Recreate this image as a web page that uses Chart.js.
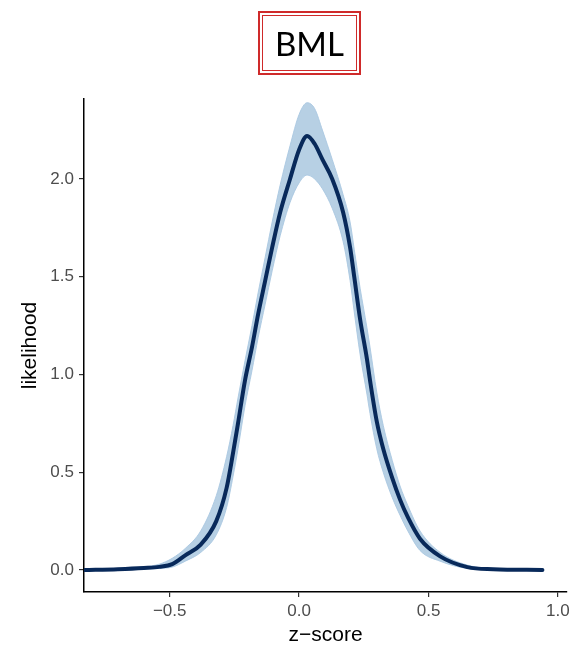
<!DOCTYPE html>
<html>
<head>
<meta charset="utf-8">
<script src="https://cdn.jsdelivr.net/npm/chart.js@4.4.1/dist/chart.umd.min.js"></script>
<style>
  html, body { margin: 0; padding: 0; background: #fff; }
  #wrap { position: relative; width: 579px; height: 645px; }
  #c { position: absolute; left: 0; top: 0; }
  #title {
    position: absolute; left: 258px; top: 11px; width: 103px; height: 64px;
    box-sizing: border-box; border: 2px solid #cf2a2a; padding: 2px;
  }
  #title div {
    box-sizing: border-box; width: 100%; height: 100%; border: 1px solid #cf2a2a;
    font-family: Lato, "DejaVu Sans", sans-serif; font-size: 33px; color: #000;
    display: flex; align-items: center; justify-content: center; line-height: 1;
  }
</style>
</head>
<body>
<div id="wrap">
  <canvas id="c" width="579" height="645"></canvas>
  <div id="title"><div>BML</div></div>
</div>
<script>
// z-score grid
const zScore = [-0.83, -0.70, -0.60, -0.54, -0.49, -0.44, -0.38, -0.32, -0.28, -0.255, -0.236, -0.209, -0.182, -0.158, -0.131, -0.104, -0.073, -0.035, 0.0, 0.031, 0.06, 0.09,
                0.128, 0.17, 0.197, 0.213, 0.236, 0.262, 0.274, 0.30, 0.325, 0.36, 0.39, 0.42, 0.467, 0.545, 0.65, 0.75, 0.94];
// mean likelihood (dark line)
const meanLik = [0.0, 0.004, 0.010, 0.016, 0.030, 0.075, 0.13, 0.25, 0.42, 0.60, 0.75, 0.97, 1.14, 1.31, 1.48, 1.65, 1.83, 2.00, 2.15, 2.22, 2.18, 2.10,
                 2.00, 1.83, 1.65, 1.50, 1.28, 1.08, 0.97, 0.76, 0.62, 0.47, 0.36, 0.27, 0.16, 0.07, 0.015, 0.004, 0.0];
// upper envelope of bootstrap curves
const bandUpper = [0.0, 0.006, 0.016, 0.03, 0.06, 0.11, 0.20, 0.38, 0.58, 0.74, 0.88, 1.07, 1.25, 1.42, 1.60, 1.78, 1.97, 2.17, 2.33, 2.39, 2.36, 2.25,
                   2.10, 1.92, 1.78, 1.64, 1.44, 1.24, 1.14, 0.91, 0.74, 0.56, 0.43, 0.33, 0.20, 0.09, 0.025, 0.006, 0.0];
// lower envelope of bootstrap curves
const bandLower = [0.0, 0.002, 0.005, 0.008, 0.015, 0.045, 0.09, 0.18, 0.32, 0.48, 0.62, 0.84, 1.02, 1.19, 1.36, 1.53, 1.71, 1.88, 1.98, 2.02, 2.00, 1.95,
                   1.85, 1.68, 1.48, 1.32, 1.10, 0.90, 0.80, 0.62, 0.50, 0.37, 0.28, 0.20, 0.10, 0.045, 0.008, 0.002, 0.0];

const xTicks = [-0.5, 0.0, 0.5, 1.0];
const yTicks = [0.0, 0.5, 1.0, 1.5, 2.0];

const pts = arr => arr.map((v, i) => ({ x: zScore[i], y: v }));
const fmt = v => (v < 0 ? '\u2212' : '') + Math.abs(v).toFixed(1);

new Chart(document.getElementById('c'), {
  type: 'line',
  data: {
    datasets: [
      { data: pts(bandUpper), order: 2, borderColor: 'rgba(170,200,225,0.9)', borderWidth: 1, backgroundColor: '#b7d0e4', fill: '+1', pointRadius: 0, cubicInterpolationMode: 'monotone' },
      { data: pts(bandLower), order: 1, borderColor: 'rgba(170,200,225,0.9)', borderWidth: 1, fill: false, pointRadius: 0, cubicInterpolationMode: 'monotone' },
      { data: pts(meanLik), order: 0, borderColor: '#08295a', borderWidth: 4, fill: false, pointRadius: 0, cubicInterpolationMode: 'monotone', borderCapStyle: 'round', borderJoinStyle: 'round' }
    ]
  },
  options: {
    responsive: false,
    animation: false,
    layout: { padding: { left: 0, right: 12, top: 99, bottom: 0 } },
    plugins: { legend: { display: false }, tooltip: { enabled: false }, title: { display: false } },
    scales: {
      x: {
        type: 'linear', min: -0.831, max: 1.035,
        afterBuildTicks: s => { s.ticks = xTicks.map(v => ({ value: v })); },
        afterFit: s => { s.height = 53; },
        border: { display: true, color: '#000', width: 1.5 },
        grid: { display: true, drawOnChartArea: false, drawTicks: true, tickLength: 5, color: '#333', lineWidth: 1.2 },
        ticks: { color: '#4d4d4d', font: { family: '"Liberation Sans", Arial, sans-serif', size: 17 }, padding: 4, maxRotation: 0, callback: v => fmt(v) },
        title: { display: true, text: 'z\u2212score', color: '#000', font: { family: '"Liberation Sans", Arial, sans-serif', size: 21 }, padding: { top: 0, bottom: -3 } }
      },
      y: {
        type: 'linear', min: -0.1125, max: 2.409,
        afterBuildTicks: s => { s.ticks = yTicks.map(v => ({ value: v })); },
        afterFit: s => { s.width = 84; },
        border: { display: true, color: '#000', width: 1.5 },
        grid: { display: true, drawOnChartArea: false, drawTicks: true, tickLength: 5, color: '#333', lineWidth: 1.2 },
        ticks: { color: '#4d4d4d', font: { family: '"Liberation Sans", Arial, sans-serif', size: 17 }, padding: 5, callback: v => fmt(v) },
        title: { display: true, text: 'likelihood', color: '#000', font: { family: '"Liberation Sans", Arial, sans-serif', size: 21 }, padding: { top: 18, bottom: 0 } }
      }
    }
  }
});
</script>
</body>
</html>
